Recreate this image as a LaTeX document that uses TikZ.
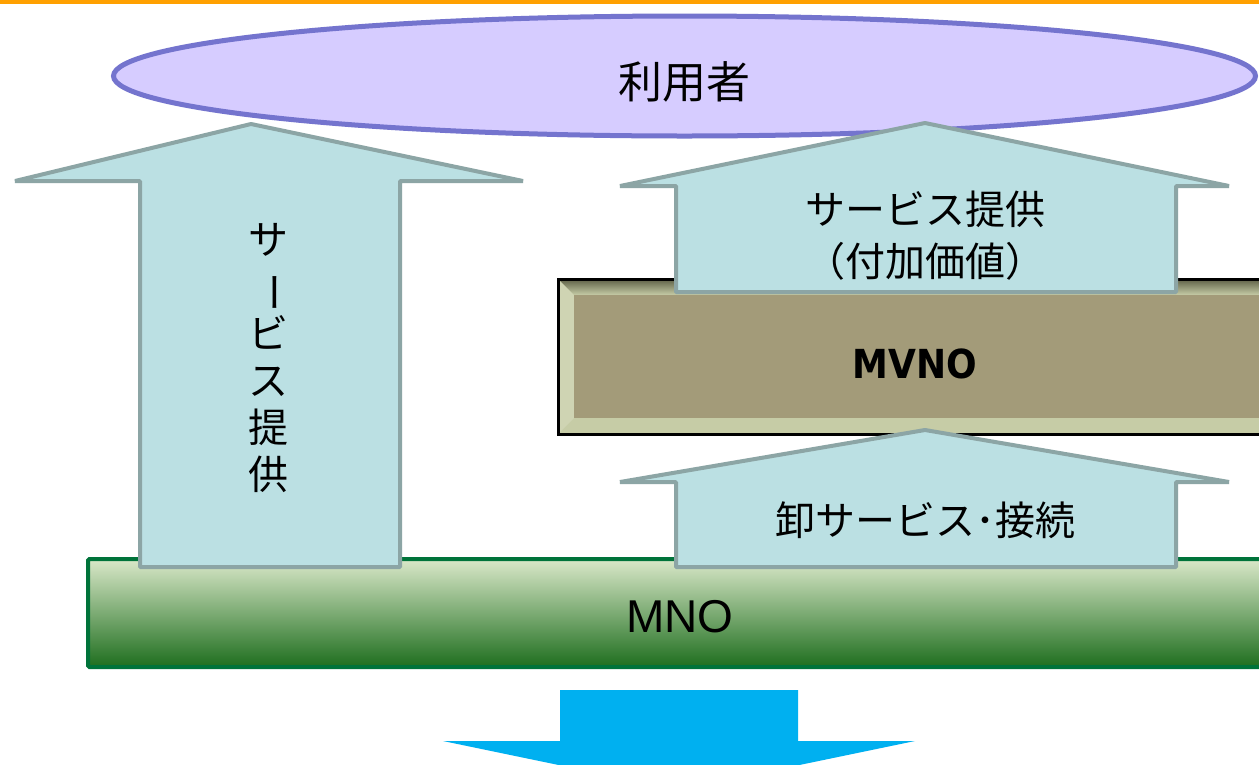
\documentclass[tikz,border=0pt]{standalone}
\usepackage{fontspec}
\setmainfont{Liberation Sans}
\newfontfamily\jp{Noto Sans CJK JP}
\newfontfamily\cond{DejaVu Sans Condensed}
\definecolor{topline}{HTML}{FFA000}
\definecolor{ellfill}{HTML}{D6CCFF}
\definecolor{elldraw}{HTML}{7474CE}
\definecolor{arrfill}{HTML}{BBE0E3}
\definecolor{arrdraw}{HTML}{8CA5A5}
\definecolor{mnodraw}{HTML}{00733A}
\definecolor{mnotop}{HTML}{DAE8C9}
\definecolor{mnomid}{HTML}{9DBA72}
\definecolor{mnobot}{HTML}{1E6E1E}
\definecolor{mvnofill}{HTML}{A39B79}
\definecolor{mvnolight}{HTML}{C6CCA6}
\definecolor{mvnodark}{HTML}{5E6046}
\definecolor{bluearr}{HTML}{00B0F0}
\tikzset{
  uparrow/.style={fill=arrfill, draw=arrdraw, line width=4pt, line join=bevel},
  jptext/.style={font=\jp\fontsize{40}{46}\selectfont, text=black, align=center, inner sep=0pt},
}
\begin{document}
\begin{tikzpicture}[x=1pt,y=-1pt]
\useasboundingbox (0,0) rectangle (1259,764);
\fill[white] (0,0) rectangle (1259,764);
\fill[topline] (0,0) rectangle (1259,3.5);
% user ellipse
\draw[fill=ellfill, draw=elldraw, line width=5pt] (684.5,76) ellipse [x radius=571, y radius=60];
\node[jptext, font=\jp\fontsize{44}{46}\selectfont] (user) at (684,82) {利用者};
% MNO
\draw[draw=mnodraw, line width=4pt, rounded corners=1.5pt, top color=mnotop, middle color=mnomid, bottom color=mnobot]
  (88,559) rectangle (1270,667);
\node[font=\fontsize{46}{50}\selectfont, inner sep=0pt] (mno) at (680,617) {MNO};
% MVNO
\fill[mvnolight] (558,279) rectangle (1270,434);
\shade[top color=mvnodark, bottom color=mvnolight] (558,279) -- (1270,279) -- (1270,295) -- (574,295) -- cycle;
\fill[mvnolight!85!white] (558,279) -- (574,295) -- (574,418) -- (558,434) -- cycle;
\fill[mvnofill] (574,295) rectangle (1270,418);
\draw[black, line width=3pt] (558,279) rectangle (1270,434);
\node[font=\cond\bfseries\fontsize{40}{44}\selectfont, inner sep=0pt] (mvno) at (915,364) {MVNO};
% left arrow
\draw[uparrow] (251,124) -- (523,181) -- (400,181) -- (400,567) -- (140,567) -- (140,181) -- (15,181) -- cycle;
\node[jptext, font=\jp\fontsize{40}{47}\selectfont] (lefttxt) at (268,358)
  {サ\\\rotatebox[origin=c]{-90}{ー}\\ビ\\ス\\提\\供};
% right upper arrow
\draw[uparrow] (925,123) -- (1229,186) -- (1176,186) -- (1176,292) -- (676,292) -- (676,186) -- (620,186) -- cycle;
\node[jptext, font=\jp\fontsize{40}{52}\selectfont] (valtxt) at (925,236) {サービス提供\\（付加価値）};
% right lower arrow
\draw[uparrow] (925,430) -- (1229,482) -- (1176,482) -- (1176,567) -- (676,567) -- (676,482) -- (620,482) -- cycle;
\node[jptext] (wholesale) at (925,520) {卸サービス･接続};
% bottom arrow
\fill[bluearr] (560,690) -- (798,690) -- (798,741) -- (915,741) -- (679,790) -- (443,741) -- (560,741) -- cycle;
\end{tikzpicture}
\end{document}
